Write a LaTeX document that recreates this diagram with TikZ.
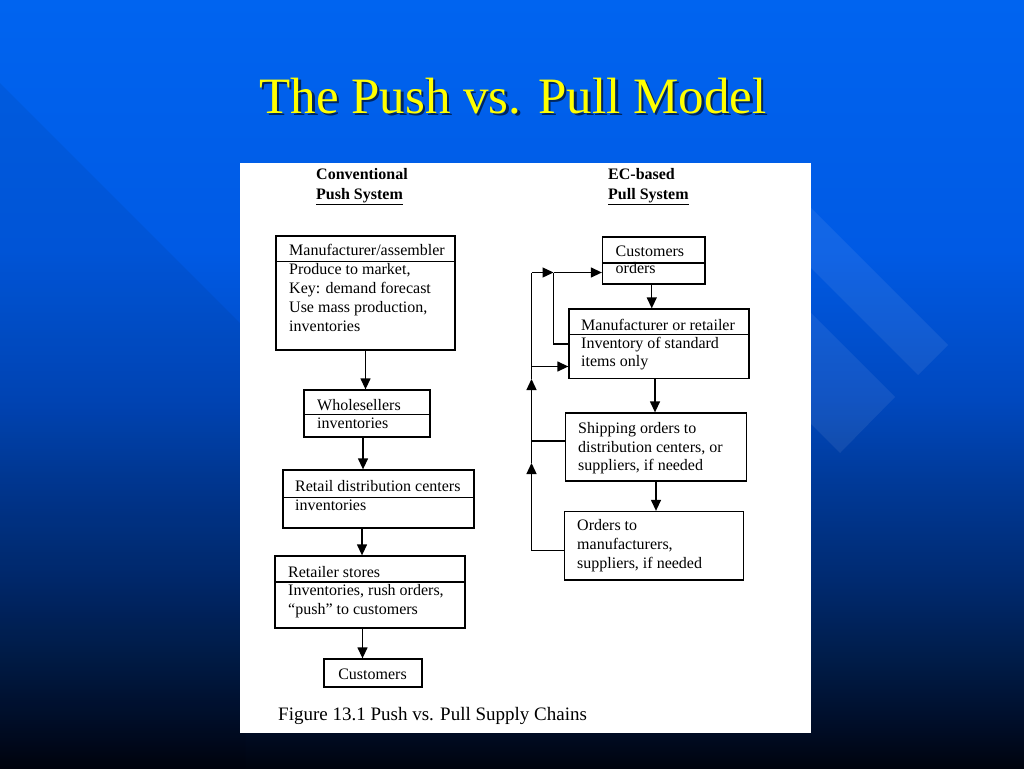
\documentclass[tikz,border=0pt]{standalone}
\usepackage{fontspec}
\setmainfont{Liberation Serif}
\usetikzlibrary{arrows.meta,calc}
\definecolor{bgA}{RGB}{0,100,240}
\definecolor{bgB}{RGB}{0,90,228}
\definecolor{bgC}{RGB}{0,72,190}
\definecolor{bgD}{RGB}{0,58,153}
\definecolor{bgE}{RGB}{0,42,112}
\definecolor{bgF}{RGB}{0,28,72}
\definecolor{bgG}{RGB}{0,12,37}
\definecolor{bgH}{RGB}{0,4,14}
\definecolor{ttl}{RGB}{255,255,0}
\pgfdeclareverticalshading{slidebg}{100bp}{color(0bp)=(bgH); color(25bp)=(bgH); color(27.47bp)=(bgG); color(32.03bp)=(bgF); color(37.24bp)=(bgE); color(43.75bp)=(bgD); color(48.96bp)=(bgC); color(58.7bp)=(bgB); color(75bp)=(bgA); color(100bp)=(bgA)}
\begin{document}
\begin{tikzpicture}[x=1pt,y=-1pt,
  box/.style={draw=black, line width=1.3pt, inner sep=0pt},
  txt/.style={anchor=base west, inner sep=0pt, font=\fontsize{16}{19}\selectfont, text=black},
  hdr/.style={anchor=base west, inner sep=0pt, font=\fontsize{16}{19}\selectfont\bfseries, text=black},
  ln/.style={line width=1.3pt, draw=black},
  arr/.style={line width=1.3pt, draw=black, -{Triangle[length=11pt,width=10pt]}}]
\useasboundingbox (0,0) rectangle (1024,768);
% background
\fill[shading=slidebg] (0,0) rectangle (1024,768);
\fill[black, opacity=0.06] (0,83) -- (245,328) -- (245,768) -- (0,768) -- cycle;
\fill[white, opacity=0.07] (790,187) -- (948,345) -- (918,375) -- (790,247) -- cycle;
\fill[white, opacity=0.07] (790,292) -- (895,397) -- (840,453) -- (790,403) -- cycle;
% title
\node[anchor=base, inner sep=0pt, font=\fontsize{51}{55}\selectfont, text=black, opacity=0.6] (tshadow) at (515.5,115.5) {The Push vs. Pull Model};
\node[anchor=base, inner sep=0pt, font=\fontsize{51}{55}\selectfont, text=ttl] (title) at (513,113) {The Push vs. Pull Model};
% panel
\fill[white] (239.5,162.5) rectangle (811,733);
% headers
\node[hdr] (h1) at (316,179) {Conventional};
\node[hdr] (h2) at (316,199) {\underline{Push System}};
\node[hdr] (h3) at (608,179) {EC-based};
\node[hdr] (h4) at (608,199) {\underline{Pull System}};
% push boxes
\node[box, minimum width=179pt, minimum height=114pt] (m1) at (365.5,293) {};
\node[box, minimum width=126pt, minimum height=47pt] (m2) at (367,413.5) {};
\node[box, minimum width=191pt, minimum height=58pt] (m3) at (378.5,499) {};
\node[box, minimum width=190pt, minimum height=72pt] (m4) at (370,592) {};
\node[box, minimum width=98pt, minimum height=28pt] (m5) at (373,673) {};
\draw[ln] ($(m1.north west)+(0,26)$) -- ($(m1.north east)+(0,26)$);
\draw[ln] ($(m2.north west)+(0,25)$) -- ($(m2.north east)+(0,25)$);
\draw[ln] ($(m3.north west)+(0,28)$) -- ($(m3.north east)+(0,28)$);
\draw[ln] ($(m4.north west)+(0,26.5)$) -- ($(m4.north east)+(0,26.5)$);
\node[txt] (t11) at (289,255.5) {Manufacturer/assembler};
\node[txt] (t12) at (289,274) {Produce to market,};
\node[txt] (t13) at (289,293) {Key: demand forecast};
\node[txt] (t14) at (289,312) {Use mass production,};
\node[txt] (t15) at (289,331) {inventories};
\node[txt] (t21) at (317,410.5) {Wholesellers};
\node[txt] (t22) at (317,428.5) {inventories};
\node[txt] (t31) at (295,491.5) {Retail distribution centers};
\node[txt] (t32) at (295,510.5) {inventories};
\node[txt] (t41) at (288,577) {Retailer stores};
\node[txt] (t42) at (288,595) {Inventories, rush orders,};
\node[txt] (t43) at (288,614) {“push” to customers};
\node[txt, anchor=base] (t51) at (372.5,679) {Customers};
% push arrows
\coordinate (p2) at ($(m2.south)+(-4,0)$);
\coordinate (p3) at ($(m3.south)+(-16.5,0)$);
\coordinate (p4) at ($(m4.south)+(-7.5,0)$);
\draw[arr] (m1.south) -- (m1.south |- m2.north);
\draw[arr] (p2) -- (p2 |- m3.north);
\draw[arr] (p3) -- (p3 |- m4.north);
\draw[arr] (p4) -- (p4 |- m5.north);
% pull boxes
\node[box, minimum width=102.5pt, minimum height=47pt] (r1) at (653.75,260.5) {};
\node[box, minimum width=180pt, minimum height=69.5pt] (r2) at (659,343.75) {};
\node[box, minimum width=181pt, minimum height=68pt] (r3) at (656,447) {};
\node[box, minimum width=179pt, minimum height=68.5pt] (r4) at (654,545.75) {};
\draw[ln] ($(r1.north west)+(0,26.5)$) -- ($(r1.north east)+(0,26.5)$);
\draw[ln] ($(r2.north west)+(0,26.4)$) -- ($(r2.north east)+(0,26.4)$);
\node[txt] (s11) at (615.5,256) {Customers};
\node[txt] (s12) at (615.5,273.5) {orders};
\node[txt] (s21) at (581,330) {Manufacturer or retailer};
\node[txt] (s22) at (581,348.5) {Inventory of standard};
\node[txt] (s23) at (581,366) {items only};
\node[txt] (s31) at (578,433.5) {Shipping orders to};
\node[txt] (s32) at (578,452.5) {distribution centers, or};
\node[txt] (s33) at (578,470.5) {suppliers, if needed};
\node[txt] (s41) at (577,530.5) {Orders to};
\node[txt] (s42) at (577,549.5) {manufacturers,};
\node[txt] (s43) at (577,568.5) {suppliers, if needed};
% pull arrows
\coordinate (q1) at ($(r1.south)+(-2,0)$);
\coordinate (q2) at ($(r2.south)+(-4,0)$);
\draw[arr] (q1) -- (q1 |- r2.north);
\draw[arr] (q2) -- (q2 |- r3.north);
\draw[arr] (r3.south) -- (r3.south |- r4.north);
% feedback
\coordinate (o1) at (531.5,272.5);
\coordinate (i1) at (553.5,272.5);
\coordinate (i2) at (553.5,344);
\coordinate (o2) at (531.5,366.5);
\coordinate (a2) at (531.5,379);
\coordinate (o3) at (531.5,441);
\coordinate (a3) at (531.5,463);
\coordinate (o4) at (531.5,550.5);
\draw[arr] (r4.west |- o4) -- (o4) -- (a3);
\draw[ln] (a3) -- (o3);
\draw[ln] (r3.west |- o3) -- (o3);
\draw[arr] (o3) -- (a2);
\draw[ln] (a2) -- (o2);
\draw[arr] (o2) -- (r2.west |- o2);
\draw[ln] (o2) -- (o1);
\draw[arr] (o1) -- (i1);
\draw[arr] (i1) -- (r1.west |- i1);
\draw[ln] (r2.west |- i2) -- (i2) -- (i1);
% caption
\node[anchor=base west, inner sep=0pt, font=\fontsize{19}{22}\selectfont] (cap) at (278,720) {Figure 13.1 Push vs. Pull Supply Chains};
\end{tikzpicture}
\end{document}
